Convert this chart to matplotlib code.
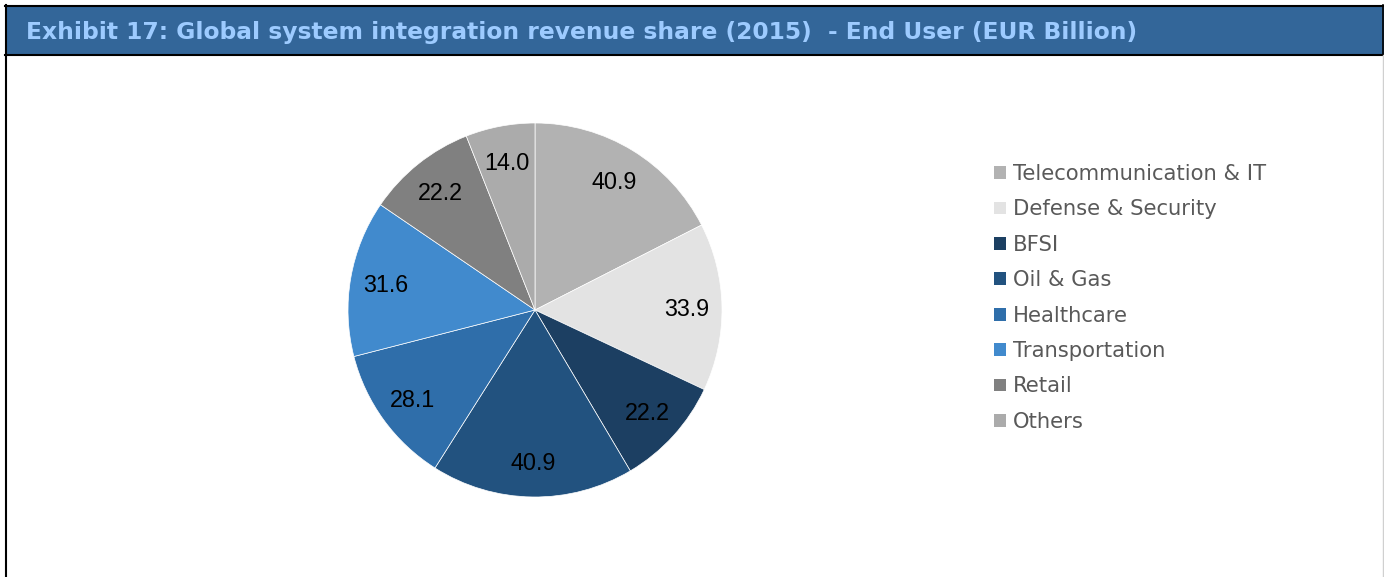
import matplotlib
matplotlib.use("Agg")
import matplotlib.pyplot as plt
from matplotlib.patches import Rectangle
import numpy as np

# data
segments = ["Telecommunication & IT", "Defense & Security", "BFSI", "Oil & Gas",
            "Healthcare", "Transportation", "Retail", "Others"]
revenue = [40.9, 33.9, 22.2, 40.9, 28.1, 31.6, 22.2, 14.0]
colours = ["#B2B2B2", "#E3E3E3", "#1C3F62", "#22527F",
           "#2F6EAA", "#418ACD", "#808080", "#ABABAB"]
title = "Exhibit 17: Global system integration revenue share (2015)  - End User (EUR Billion)"

W, H = 1384, 577
fig = plt.figure(figsize=(W / 100, H / 100), dpi=100)

# frame and header bar, in pixel coords
bg = fig.add_axes([0, 0, 1, 1])
bg.set_xlim(0, W)
bg.set_ylim(H, 0)
bg.axis("off")
bg.add_patch(Rectangle((5, 5), W - 5, 49, facecolor="#336699", edgecolor="none"))
bg.plot([5, W], [5.5, 5.5], color="black", lw=1.5)
bg.plot([5, W], [54.5, 54.5], color="black", lw=1.5)
bg.plot([5.5, 5.5], [5, H], color="black", lw=1.5)
bg.plot([1382.5, 1382.5], [5, 54], color="black", lw=1.2)
bg.plot([1383, 1383], [55, H], color="#D0D0D0", lw=1)
bg.text(26, 32, title, color="#9DCBFF", fontsize=16.8, fontweight="bold",
        family="DejaVu Sans", va="center", ha="left")

# pie
cx, cy, r = 535, 310, 187
ax = fig.add_axes([(cx - r) / W, (H - cy - r) / H, 2 * r / W, 2 * r / H])
wedges, _ = ax.pie(revenue, colors=colours, startangle=90, counterclock=False,
                   wedgeprops=dict(edgecolor="white", linewidth=0.5))
ax.set_xlim(-1, 1)
ax.set_ylim(-1, 1)
ax.set_aspect("equal")

for w, v in zip(wedges, revenue):
    ang = np.deg2rad((w.theta1 + w.theta2) / 2)
    ax.text(0.81 * np.cos(ang), 0.81 * np.sin(ang) - 0.01, f"{v:.1f}", ha="center", va="center",
            fontsize=16.8, family="Liberation Sans", color="black")

# legend
lg = fig.legend(wedges, segments, loc="upper left", bbox_to_anchor=(975 / W, 1 - 145 / H),
                frameon=False, handlelength=0.55, handleheight=0.55,
                handletextpad=0.35, labelspacing=0.73, labelcolor="#595959",
                prop=dict(family="DejaVu Sans", size=15.2))
for h in lg.legend_handles:
    h.set_edgecolor("none")

fig.savefig("out.png", dpi=100)
